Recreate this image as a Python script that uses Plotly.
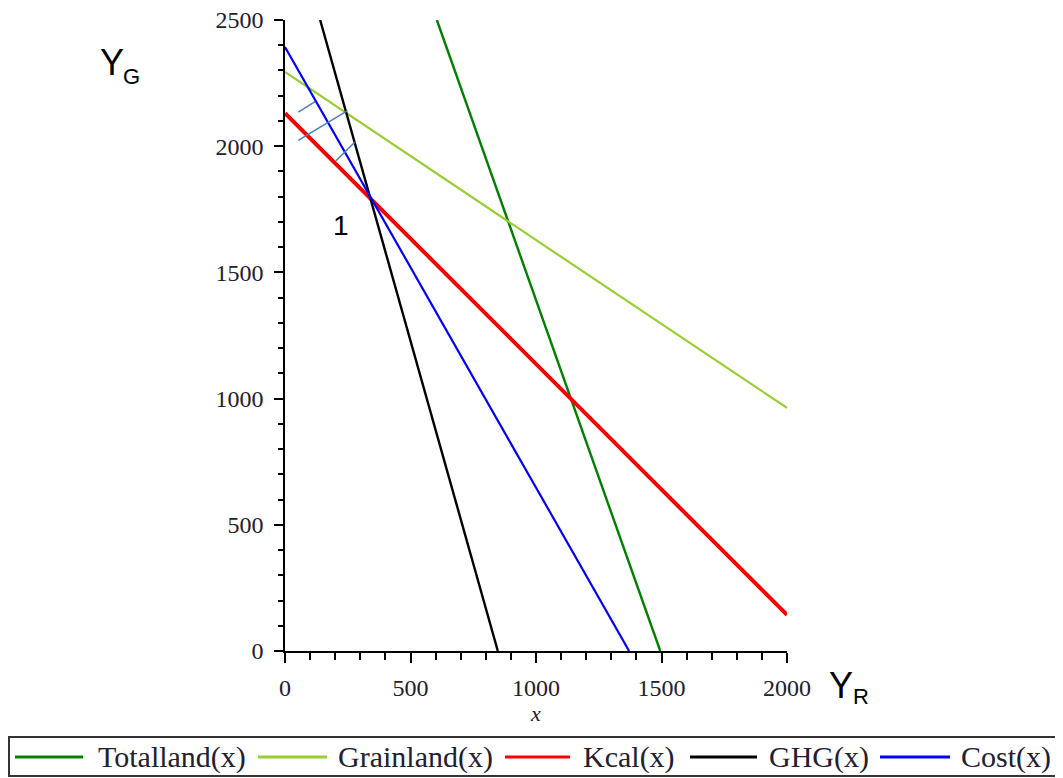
import plotly.graph_objects as go

# Series endpoints (data coordinates)
totalland_x = [605, 1495]
totalland_y = [2500, 0]
grainland_x = [0, 2000]
grainland_y = [2294, 963]
kcal_x = [0, 2000]
kcal_y = [2131, 143]
ghg_x = [140, 848]
ghg_y = [2500, 0]
cost_x = [0, 1371]
cost_y = [2393, 0]

# small hatch marks (data coords)
hatch_x0 = [53, 53, 203]
hatch_y0 = [2135, 2023, 1942]
hatch_x1 = [120, 249, 279]
hatch_y1 = [2177, 2141, 2017]

x_ticks = [0, 500, 1000, 1500, 2000]
y_ticks = [0, 500, 1000, 1500, 2000, 2500]

names = ["Totalland(x)", "Grainland(x)", "Kcal(x)", "GHG(x)", "Cost(x)"]
colors = ["#008000", "#9ACD32", "#FF0000", "#000000", "#0000FF"]
widths = [2.4, 2.2, 4, 2.4, 2.2]

SERIF = "Liberation Serif"
SANS = "Liberation Sans"

fig = go.Figure()
series_x = [totalland_x, grainland_x, kcal_x, ghg_x, cost_x]
series_y = [totalland_y, grainland_y, kcal_y, ghg_y, cost_y]
for name, xs, ys, col, w in zip(names, series_x, series_y, colors, widths):
    fig.add_trace(go.Scatter(x=xs, y=ys, mode="lines", name=name,
                             line=dict(color=col, width=w), showlegend=False))

for x0, y0, x1, y1 in zip(hatch_x0, hatch_y0, hatch_x1, hatch_y1):
    fig.add_shape(type="line", x0=x0, y0=y0, x1=x1, y1=y1, xref="x", yref="y",
                  line=dict(color="#4A7EBB", width=1.5))

# page offset (body margin) and figure geometry
OFF = 8
W, H = 1055, 770
L, T = 277, 12
pw, ph = 502, 631
R = W - L - pw
B = H - T - ph

def px(x):
    return (x - OFF - L) / pw

def py(y):
    return (H - B - (y - OFF)) / ph

fig.update_layout(
    width=W, height=H,
    margin=dict(l=L, r=R, t=T, b=B, autoexpand=False),
    paper_bgcolor="white", plot_bgcolor="white",
    showlegend=False,
    xaxis=dict(range=[0, 2000], tickvals=x_ticks, showgrid=False, zeroline=False,
               automargin=False,
               showline=True, linecolor="black", linewidth=1.5,
               ticks="outside", ticklen=10, tickwidth=1.5, tickcolor="black",
               minor=dict(dtick=100, ticks="outside", ticklen=7, tickwidth=1.5, tickcolor="black"),
               tickfont=dict(family=SERIF, size=24, color="#202030"),
               ticklabelstandoff=4, ticklabeloverflow="allow",
               title=dict(text="<i>x</i>", font=dict(family=SERIF, size=22, color="#202030"), standoff=2)),
    yaxis=dict(range=[0, 2500], tickvals=y_ticks, showgrid=False, zeroline=False,
               automargin=False,
               showline=True, linecolor="black", linewidth=1.5,
               ticks="outside", ticklen=9, tickwidth=1.5, tickcolor="black",
               minor=dict(dtick=100, ticks="outside", ticklen=5, tickwidth=1.5, tickcolor="black"),
               tickfont=dict(family=SERIF, size=24, color="#202030"),
               ticklabelstandoff=6, ticklabeloverflow="allow"),
)

annots = [
    ("Y", 112, 63, 36),
    ("G", 131, 76, 22),
    ("Y", 841, 685, 36),
    ("R", 861, 696, 22),
    ("1", 341, 225, 28),
]
for txt, ax, ay, sz in annots:
    fig.add_annotation(text=txt, x=px(ax), y=py(ay), xref="paper", yref="paper",
                       showarrow=False, xanchor="center", yanchor="middle",
                       font=dict(family=SANS, size=sz, color="black"))

# hand-built legend box along the bottom
fig.add_shape(type="rect", xref="paper", yref="paper",
              x0=px(9), x1=px(1056), y0=py(737), y1=py(776),
              line=dict(color="#333333", width=2), fillcolor="white")
leg_line_x0 = [15, 258, 505, 690, 880]
leg_line_x1 = [83, 327, 570, 757, 950]
leg_text_x = [96, 336, 581, 767, 959]
LEG_Y = 757
for nm, col, a, b, tx in zip(names, colors, leg_line_x0, leg_line_x1, leg_text_x):
    fig.add_shape(type="line", xref="paper", yref="paper",
                  x0=px(a), x1=px(b), y0=py(LEG_Y), y1=py(LEG_Y),
                  line=dict(color=col, width=3))
    fig.add_annotation(text=nm, x=px(tx), y=py(LEG_Y), xref="paper", yref="paper",
                       showarrow=False, xanchor="left", yanchor="middle",
                       font=dict(family=SERIF, size=30, color="#202030"))

fig.write_html("out.html")
